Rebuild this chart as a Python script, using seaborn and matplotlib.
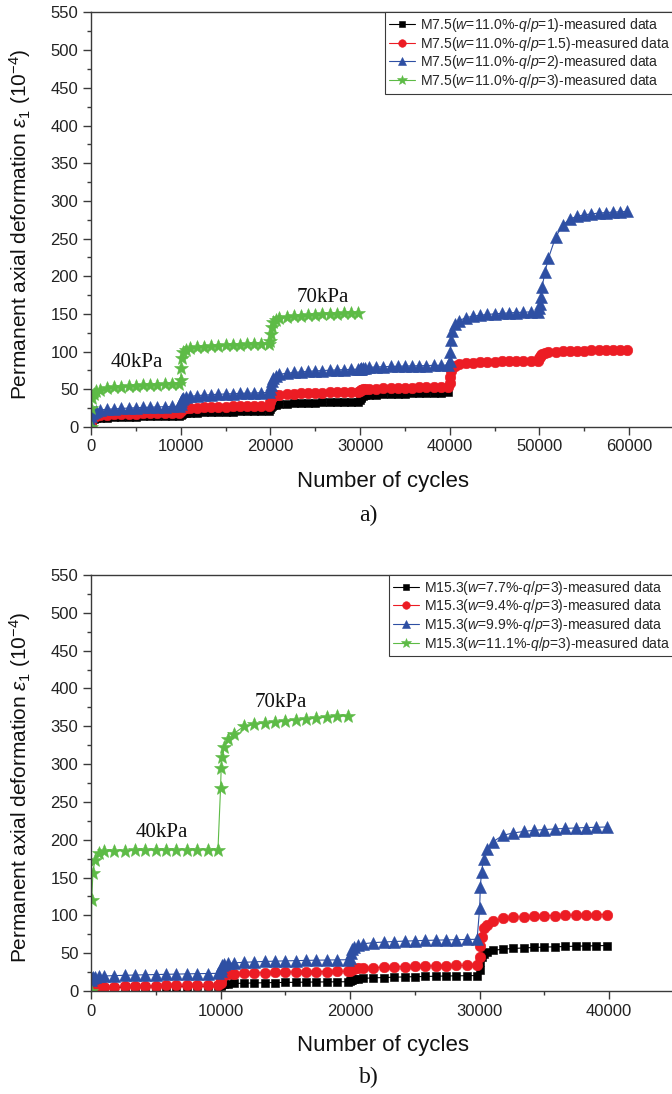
import numpy as np
import pandas as pd
import matplotlib
matplotlib.use("Agg")
import matplotlib.pyplot as plt
import seaborn as sns
from matplotlib.ticker import MultipleLocator

# ---------------- data ----------------
# cycle offsets of the recorded points inside each 10000-cycle loading stage
stage_offsets = [0, 50, 150, 300, 600, 1000, 1800, 2600, 3400, 4200, 5000, 5800, 6600, 7400, 8200, 9000, 9800]
stage_length = 10000

# panel a) M7.5, w = 11.0 %, different q/p  (one row per loading stage)
a_qp1 = [
    [1, 6, 9, 10.5, 11.5, 12, 12.5, 12.9, 13.2, 13.5, 13.8, 14.0, 14.2, 14.4, 14.6, 14.8, 15.0],
    [16, 16.8, 17.4, 17.9, 18.3, 18.7, 19.1, 19.4, 19.7, 20.0, 20.3, 20.5, 20.7, 20.9, 21.1, 21.3, 21.5],
    [24, 26.5, 28, 29, 29.8, 30.4, 31, 31.4, 31.8, 32.1, 32.4, 32.7, 33, 33.2, 33.4, 33.6, 33.8],
    [36, 38.5, 40, 41, 41.8, 42.4, 43, 43.4, 43.8, 44.1, 44.4, 44.7, 45, 45.2, 45.4, 45.6, 45.8],
]
a_qp15 = [
    [3, 9, 12.5, 14, 15, 15.6, 16.2, 16.6, 17, 17.3, 17.6, 17.9, 18.1, 18.3, 18.5, 18.7, 18.9],
    [21, 22.5, 23.5, 24.2, 24.8, 25.3, 25.8, 26.2, 26.5, 26.8, 27.1, 27.3, 27.5, 27.7, 27.9, 28.1, 28.3],
    [33, 37, 39.5, 41, 42.2, 43, 43.8, 44.3, 44.7, 45.1, 45.4, 45.7, 46, 46.2, 46.4, 46.6, 46.8],
    [48, 48.8, 49.4, 49.8, 50.2, 50.5, 50.9, 51.2, 51.5, 51.8, 52, 52.2, 52.4, 52.6, 52.8, 53, 53.2],
    [58, 66, 74, 79, 81.5, 83, 84.3, 85, 85.6, 86.1, 86.5, 86.9, 87.2, 87.5, 87.8, 88, 88.2],
    [91, 93.5, 95.5, 97, 98.2, 99, 99.8, 100.3, 100.7, 101, 101.3, 101.5, 101.7, 101.9, 102.1, 102.2, 102.4],
]
a_qp2 = [
    [5, 14, 18, 20, 21.5, 22.5, 23.5, 24.1, 24.6, 25.1, 25.5, 25.9, 26.3, 26.6, 26.9, 27.2, 27.5],
    [30, 34, 36.5, 38.2, 39.6, 40.6, 41.6, 42.3, 42.9, 43.4, 43.8, 44.2, 44.6, 44.9, 45.2, 45.5, 45.8],
    [50, 56, 61, 65, 68, 69.8, 71.3, 72.3, 73.1, 73.8, 74.4, 74.9, 75.3, 75.7, 76.1, 76.4, 76.7],
    [77, 77.6, 78.1, 78.5, 78.9, 79.2, 79.6, 80, 80.3, 80.6, 80.9, 81.1, 81.3, 81.5, 81.7, 81.9, 82.1],
    [88, 100, 115, 127, 136, 141, 145, 147, 148.3, 149.3, 150.1, 150.8, 151.4, 151.9, 152.3, 152.7, 153],
    [158, 163, 172, 186, 205, 224, 252, 268, 276, 279.5, 281.5, 282.8, 283.8, 284.5, 285.1, 285.6, 286],
]
a_qp3 = [
    [0, 25, 38, 44, 47.5, 49.5, 51.3, 52.4, 53.3, 54, 54.6, 55.1, 55.6, 56, 56.4, 56.8, 57.1],
    [62, 78, 92, 99, 102.5, 104.3, 105.8, 106.7, 107.4, 108, 108.5, 109, 109.4, 109.8, 110.1, 110.4, 110.7],
    [114, 124, 133, 139, 142.5, 144.3, 145.8, 146.8, 147.6, 148.3, 148.9, 149.4, 149.9, 150.3, 150.6, 150.9, 151.2],
]

# panel b) M15.3, q/p = 3, different w
b_w77 = [
    [0, 2, 3, 3.5, 4, 4.3, 4.6, 4.9, 5.1, 5.3, 5.5, 5.7, 5.9, 6, 6.1, 6.2, 6.3],
    [7, 8, 8.8, 9.3, 9.7, 10, 10.4, 10.7, 11, 11.2, 11.4, 11.6, 11.8, 12, 12.1, 12.2, 12.3],
    [13, 14, 15, 15.7, 16.3, 16.8, 17.4, 17.9, 18.3, 18.7, 19, 19.3, 19.6, 19.9, 20.1, 20.3, 20.5],
    [28, 38, 45, 49, 52, 53.8, 55.3, 56.3, 57, 57.6, 58.1, 58.5, 58.9, 59.3, 59.6, 59.9, 60.2],
]
b_w94 = [
    [1, 3, 4, 4.6, 5.1, 5.5, 6, 6.4, 6.7, 7, 7.2, 7.4, 7.6, 7.8, 8, 8.1, 8.2],
    [10, 15, 19, 21, 22.2, 23, 23.6, 24, 24.4, 24.7, 25, 25.2, 25.4, 25.6, 25.8, 26, 26.1],
    [27, 28, 28.8, 29.4, 30, 30.5, 31.1, 31.6, 32, 32.4, 32.7, 33, 33.3, 33.6, 33.8, 34, 34.2],
    [45, 59, 72, 83, 87, 92, 96.5, 97.5, 98.3, 98.9, 99.4, 99.8, 100.2, 100.5, 100.8, 101, 101.2],
]
b_w99 = [
    [15, 17, 18, 18.8, 19.4, 19.9, 20.4, 20.8, 21.2, 21.5, 21.8, 22.1, 22.4, 22.7, 23, 23.2, 23.4],
    [26, 31, 34, 35.5, 36.5, 37.2, 38, 38.6, 39.1, 39.5, 39.9, 40.2, 40.5, 40.8, 41, 41.2, 41.4],
    [44, 50, 55, 58.5, 61, 62.5, 64, 64.8, 65.5, 66, 66.5, 66.9, 67.3, 67.6, 67.9, 68.2, 68.4],
    [110, 138, 158, 175, 188, 197, 206, 209, 211, 212.5, 213.5, 214.3, 215, 215.6, 216.1, 216.5, 216.9],
]
b_w111 = [
    [0, 120, 156, 173, 182, 185, 185.5, 185.8, 186, 186.2, 186.4, 186.5, 186.6, 186.7, 186.8, 186.9, 187],
    [268, 295, 310, 323, 333, 340, 350, 352.5, 354.5, 356, 357.5, 358.8, 360, 361, 362, 363, 363.8],
]

labels_a = [
    r"M7.5($\mathit{w}$=11.0%-$\mathit{q/p}$=1)-measured data",
    r"M7.5($\mathit{w}$=11.0%-$\mathit{q/p}$=1.5)-measured data",
    r"M7.5($\mathit{w}$=11.0%-$\mathit{q/p}$=2)-measured data",
    r"M7.5($\mathit{w}$=11.0%-$\mathit{q/p}$=3)-measured data",
]
labels_b = [
    r"M15.3($\mathit{w}$=7.7%-$\mathit{q/p}$=3)-measured data",
    r"M15.3($\mathit{w}$=9.4%-$\mathit{q/p}$=3)-measured data",
    r"M15.3($\mathit{w}$=9.9%-$\mathit{q/p}$=3)-measured data",
    r"M15.3($\mathit{w}$=11.1%-$\mathit{q/p}$=3)-measured data",
]
y_ticks = [0, 50, 100, 150, 200, 250, 300, 350, 400, 450, 500, 550]
xticks_a = [0, 10000, 20000, 30000, 40000, 50000, 60000]
xticks_b = [0, 10000, 20000, 30000, 40000]

colors = ["#000000", "#ec1c24", "#2e4fa3", "#5dbb46"]
markers = ["s", "o", "^", "*"]
msizes = [6.3, 7.6, 8.0, 10.5]

# ---------------- style ----------------
sns.set_style("ticks")
plt.rcParams["font.family"] = ["Liberation Sans", "DejaVu Sans"]
plt.rcParams["mathtext.fontset"] = "custom"
plt.rcParams["mathtext.rm"] = "Liberation Sans"
plt.rcParams["mathtext.it"] = "Liberation Sans:italic"
plt.rcParams["mathtext.bf"] = "Liberation Sans:bold"
AX = "#3a3a3a"
SERIF = ["Liberation Serif", "DejaVu Serif"]


def to_frame(stages):
    xs, ys = [], []
    for k, row in enumerate(stages):
        for off, v in zip(stage_offsets, row):
            xs.append(k * stage_length + off)
            ys.append(v)
    return pd.DataFrame({"cycles": xs, "eps": ys})


def draw(ax, series, labels, xlim, xticks, notes):
    for i, (st, lab) in enumerate(zip(series, labels)):
        df = to_frame(st)
        sns.lineplot(data=df, x="cycles", y="eps", ax=ax, color=colors[i],
                     marker=markers[i], markersize=msizes[i], markeredgecolor=colors[i],
                     markeredgewidth=0.4, linewidth=0.8, label=lab,
                     estimator=None, sort=False)
    ax.set_xlim(*xlim)
    ax.set_ylim(0, 550)
    ax.set_xticks(xticks)
    ax.set_yticks(y_ticks)
    ax.xaxis.set_minor_locator(MultipleLocator(5000))
    ax.yaxis.set_minor_locator(MultipleLocator(25))
    ax.tick_params(which="major", direction="out", length=6, width=1, color=AX,
                   labelsize=12, labelcolor="#222222", pad=3)
    ax.tick_params(which="minor", direction="out", length=3, width=1, color=AX)
    for s in ["left", "bottom", "top"]:
        ax.spines[s].set_color(AX)
        ax.spines[s].set_linewidth(1.0)
    ax.spines["right"].set_visible(False)
    ax.set_xlabel("Number of cycles", fontsize=16, color="#111111")
    ax.set_ylabel(r"Permanent axial deformation $\varepsilon_1$ (10$^{-4}$)",
                  fontsize=15, color="#111111")
    ax.xaxis.set_label_coords(0.5, -0.105)
    ax.yaxis.set_label_coords(-0.1, 0.49)
    leg = ax.legend(loc="upper right", bbox_to_anchor=(1.0, 1.0), borderaxespad=0,
                    fontsize=10.1, frameon=True, fancybox=False, edgecolor=AX,
                    framealpha=1, handlelength=1.9, handletextpad=0.35,
                    labelspacing=0.05, borderpad=0.25, markerscale=0.72)
    leg.get_frame().set_linewidth(0.8)
    for txt, (nx, ny) in notes:
        ax.text(nx, ny, txt, fontsize=15, family=SERIF,
                ha="center", va="center", color="#111111")


fig = plt.figure(figsize=(6.72, 10.94), dpi=100)
ax1 = fig.add_axes([0.1354, 0.6097, 0.8676, 0.3789])
ax2 = fig.add_axes([0.1354, 0.0941, 0.8676, 0.3803])

draw(ax1, [a_qp1, a_qp15, a_qp2, a_qp3], labels_a, (0, 65000), xticks_a,
     [("40kPa", (5100, 85)), ("70kPa", (25800, 172))])
draw(ax2, [b_w77, b_w94, b_w99, b_w111], labels_b, (0, 45000), xticks_b,
     [("40kPa", (5500, 210)), ("70kPa", (14640, 382))])

fig.text(368 / 672, 1 - 515 / 1094, "a)", fontsize=17, family=SERIF,
         ha="center", va="center", color="#111111")
fig.text(369 / 672, 1 - 1077 / 1094, "b)", fontsize=17, family=SERIF,
         ha="center", va="center", color="#111111")

fig.savefig("out.png", dpi=100)
